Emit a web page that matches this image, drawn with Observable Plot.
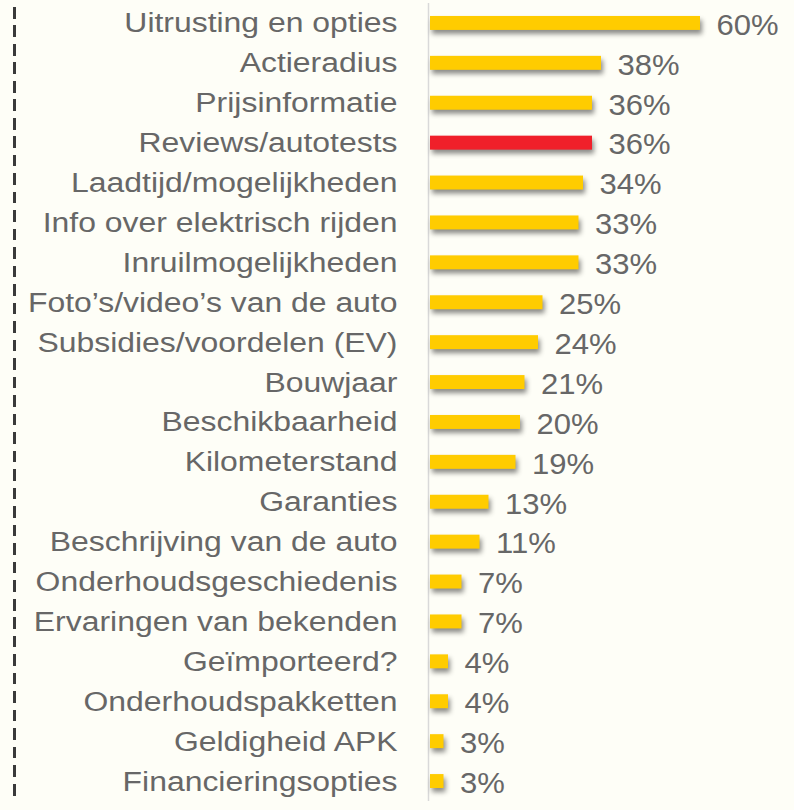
<!DOCTYPE html>
<html>
<head>
<meta charset="utf-8">
<script src="https://cdn.jsdelivr.net/npm/d3@7"></script>
<script src="https://cdn.jsdelivr.net/npm/@observablehq/plot@0.6"></script>
<style>
  html, body { margin: 0; padding: 0; background: #FEFEF7; }
  #wrap { position: relative; width: 794px; height: 810px; overflow: hidden; }
  #dash { position: absolute; left: 13px; top: 7px; width: 2.5px; height: 791px;
    background: repeating-linear-gradient(to bottom, #3a3a3a 0 11.5px, transparent 11.5px 18.5px); }
  .shadowbars rect { filter: drop-shadow(2px 4px 2.5px rgba(0,0,0,0.45)); }
</style>
</head>
<body>
<div id="wrap"><div id="dash"></div></div>
<script>
const categories = [
  "Uitrusting en opties",
  "Actieradius",
  "Prijsinformatie",
  "Reviews/autotests",
  "Laadtijd/mogelijkheden",
  "Info over elektrisch rijden",
  "Inruilmogelijkheden",
  "Foto’s/video’s van de auto",
  "Subsidies/voordelen (EV)",
  "Bouwjaar",
  "Beschikbaarheid",
  "Kilometerstand",
  "Garanties",
  "Beschrijving van de auto",
  "Onderhoudsgeschiedenis",
  "Ervaringen van bekenden",
  "Geïmporteerd?",
  "Onderhoudspakketten",
  "Geldigheid APK",
  "Financieringsopties"
];
const values = [60, 38, 36, 36, 34, 33, 33, 25, 24, 21, 20, 19, 13, 11, 7, 7, 4, 4, 3, 3];
const highlighted = ["Reviews/autotests"];
const barColor = "#FFCC00";
const highlightColor = "#F0202A";

const data = categories.map((c, i) => ({category: c, value: values[i]}));

const chart = Plot.plot({
  width: 794,
  height: 810,
  marginLeft: 430,
  marginRight: 94,
  marginTop: 3,
  marginBottom: 9,
  style: {background: "transparent", fontFamily: "'Liberation Sans', Arial, sans-serif", overflow: "visible"},
  x: {domain: [0, 60], axis: null},
  y: {domain: categories, paddingInner: 0.65, paddingOuter: 0.325, round: false, axis: null},
  color: {type: "identity"},
  marks: [
    Plot.ruleX([0], {stroke: "#d9d9d9", strokeWidth: 1.5, dx: -2}),
    Plot.barX(data, {
      x: "value", y: "category",
      fill: d => highlighted.includes(d.category) ? highlightColor : barColor,
      className: "shadowbars"
    }),
    Plot.text(data, {
      x: "value", y: "category", text: d => d.value + "%",
      dx: 16, dy: 2, textAnchor: "start", fontSize: 29, fill: "#676767",
      className: "valuelabels"
    }),
    Plot.axisY({tickSize: 0, tickPadding: 33, fontSize: 28, color: "#676767", label: null,
      className: "catlabels"})
  ]
});
document.getElementById("wrap").appendChild(chart);

// the reference picture is slightly stretched horizontally: widen each text about its anchor
function stretch(selector, k) {
  chart.querySelectorAll(selector + " text").forEach(t => {
    let tr = t.getAttribute("transform");
    if (!tr) {
      const x = t.getAttribute("x") || 0, y = t.getAttribute("y") || 0;
      t.removeAttribute("x"); t.removeAttribute("y");
      tr = `translate(${x},${y})`;
    }
    t.setAttribute("transform", tr + ` scale(${k},1)`);
  });
}
stretch(".catlabels", 1.14);
stretch(".valuelabels", 1.07);
</script>
</body>
</html>
